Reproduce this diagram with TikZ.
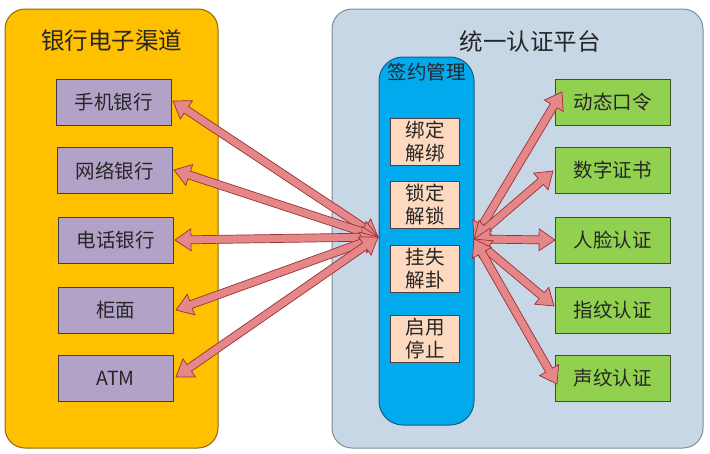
\documentclass[tikz,border=0pt]{standalone}
\usepackage{fontspec}
\setmainfont{Noto Sans CJK SC}
\usetikzlibrary{calc}
\definecolor{orangebg}{HTML}{FFC000}
\definecolor{orangebd}{HTML}{8A6A10}
\definecolor{graybg}{HTML}{C8D7E6}
\definecolor{graybd}{HTML}{7F8C99}
\definecolor{lav}{HTML}{B3A2C7}
\definecolor{lavbd}{HTML}{3F3A4F}
\definecolor{bluebox}{HTML}{00AAEC}
\definecolor{bluebd}{HTML}{1C5A86}
\definecolor{peach}{HTML}{FCD9BF}
\definecolor{peachbd}{HTML}{4A4040}
\definecolor{greenbox}{HTML}{92D050}
\definecolor{greenbd}{HTML}{3F5322}
\definecolor{arrfill}{HTML}{E58689}
\definecolor{arrbd}{HTML}{9B3034}
\tikzset{
  bigbox/.style={rounded corners=20pt, line width=1pt},
  chan/.style={draw=lavbd, fill=lav, line width=0.8pt, minimum width=115pt, minimum height=46pt, font=\fontsize{19.5}{23}\selectfont, text=black!85},
  meth/.style={draw=greenbd, fill=greenbox, line width=0.8pt, minimum width=115pt, minimum height=46pt, font=\fontsize{19.5}{23}\selectfont, text=black!85},
  opbox/.style={draw=peachbd, fill=peach, line width=0.8pt, minimum width=69pt, minimum height=47pt, inner sep=0pt, align=center, font=\fontsize{19.5}{23}\selectfont, text=black!85},
  title/.style={font=\fontsize{23.5}{27}\selectfont, text=black!85},
  arr/.style={fill=arrfill, draw=arrbd, line width=0.7pt, line join=miter}
}
\def\hl{16pt}
\def\hw{11pt}
\def\sw{4pt}
\newcommand\barrow[2]{%
  \filldraw[arr] (#1)
   -- ($(#1)!\hl!(#2)!\hw!90:(#2)$)
   -- ($(#1)!\hl!(#2)!\sw!90:(#2)$)
   -- ($(#2)!\hl!(#1)!\sw!-90:(#1)$)
   -- ($(#2)!\hl!(#1)!\hw!-90:(#1)$)
   -- (#2)
   -- ($(#2)!\hl!(#1)!\hw!90:(#1)$)
   -- ($(#2)!\hl!(#1)!\sw!90:(#1)$)
   -- ($(#1)!\hl!(#2)!\sw!-90:(#2)$)
   -- ($(#1)!\hl!(#2)!\hw!-90:(#2)$)
   -- cycle;}
\begin{document}
\begin{tikzpicture}[x=1pt,y=-1pt]
\useasboundingbox (0,0) rectangle (710,453);
\fill[white] (0,0) rectangle (710,453);
% big containers
\draw[bigbox, fill=orangebg, draw=orangebd] (5,9) rectangle (218,448);
\draw[bigbox, fill=graybg, draw=graybd] (332,9) rectangle (703,448);
\node[title] (t1) at (112,41) {银行电子渠道};
\node[title] (t2) at (530,42) {统一认证平台};
% signing management
\draw[rounded corners=24pt, fill=bluebox, draw=bluebd, line width=1pt] (379,57) rectangle (474,425);
\node[font=\fontsize{19.5}{23}\selectfont, text=black!85] (sm) at (426.5,72) {签约管理};
\node[opbox] (o1) at (425,142) {绑定\\解绑};
\node[opbox] (o2) at (425,204.5) {锁定\\解锁};
\node[opbox] (o3) at (425,268.5) {挂失\\解卦};
\node[opbox] (o4) at (425,338.5) {启用\\停止};
% channels
\node[chan] (c1) at (113.5,102.5) {手机银行};
\node[chan] (c2) at (114.5,170.5) {网络银行};
\node[chan] (c3) at (115.5,240.5) {电话银行};
\node[chan] (c4) at (115.5,310) {柜面};
\node[chan] (c5) at (115.5,378.5) {ATM};
% methods
\node[meth] (g1) at (612.5,102) {动态口令};
\node[meth] (g2) at (612.5,170) {数字证书};
\node[meth] (g3) at (612.5,240.5) {人脸认证};
\node[meth] (g4) at (612.5,310) {指纹认证};
\node[meth] (g5) at (612.5,378.5) {声纹认证};
% arrow endpoints
\coordinate (L) at (378,237);
\coordinate (R) at (474,239);
\coordinate (e1) at (173,101);
\coordinate (e2) at (174,170);
\coordinate (e3) at (175,240);
\coordinate (e4) at (176,310);
\coordinate (e5) at (176,377);
\coordinate (f1) at (562,92);
\coordinate (f2) at (553,171);
\coordinate (f3) at (555,240);
\coordinate (f4) at (554,306);
\coordinate (f5) at (557,384);
\barrow{L}{e1}
\barrow{L}{e2}
\barrow{L}{e3}
\barrow{L}{e4}
\barrow{L}{e5}
\barrow{R}{f1}
\barrow{R}{f2}
\barrow{R}{f3}
\barrow{R}{f4}
\barrow{R}{f5}
\end{tikzpicture}
\end{document}
